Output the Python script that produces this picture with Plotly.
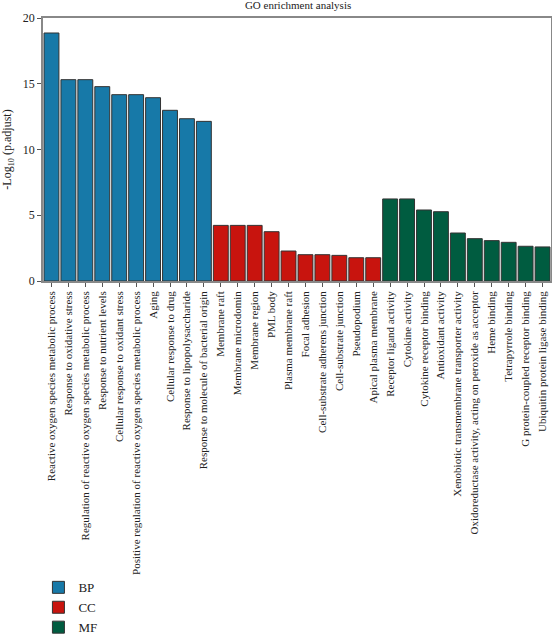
import plotly.graph_objects as go

bp_terms = ["Reactive oxygen species metabolic process", "Response to oxidative stress",
            "Regulation of reactive oxygen species metabolic process", "Response to nutrient levels",
            "Cellular response to oxidant stress", "Positive regulation of reactive oxygen species metabolic process",
            "Aging", "Cellular response to drug", "Response to lipopolysaccharide",
            "Response to molecule of bacterial origin"]
bp_vals = [18.86, 15.31, 15.31, 14.78, 14.17, 14.17, 13.94, 12.98, 12.34, 12.14]

cc_terms = ["Membrane raft", "Membrane microdomin", "Membrane region", "PML body", "Plasma membrane raft",
            "Focal adhesion", "Cell-substrate adherens junction", "Cell-substrate junction",
            "Pseudopodium", "Apical plasma membrane"]
cc_vals = [4.23, 4.23, 4.23, 3.75, 2.28, 2.0, 2.0, 1.95, 1.77, 1.77]

mf_terms = ["Receptor ligand activity", "Cytokine activity", "Cytokine receptor binding", "Antioxidant activity",
            "Xenobiotic transmembrane transporter activity",
            "Oxidoreductase activity, acting on peroxide as acceptor", "Heme binding", "Tetrapyrrole binding",
            "G protein-coupled receptor binding", "Ubiquitin protein ligase binding"]
mf_vals = [6.24, 6.24, 5.40, 5.27, 3.65, 3.22, 3.07, 2.94, 2.64, 2.59]

groups = [("BP", bp_terms, bp_vals, "#1779A8"),
          ("CC", cc_terms, cc_vals, "#C8140E"),
          ("MF", mf_terms, mf_vals, "#005C40")]

fig = go.Figure()
for name, terms, vals, color in groups:
    fig.add_trace(go.Bar(x=terms, y=vals, name=name,
                         marker=dict(color=color, line=dict(color="#333333", width=1))))

font_family = "Liberation Serif"
fig.update_layout(
    width=552, height=635,
    margin=dict(l=43, r=1, t=18, b=354, autoexpand=False),
    plot_bgcolor="white", paper_bgcolor="white",
    barmode="overlay", bargap=0.12,
    font=dict(family=font_family, color="#222222", size=11),
    title=dict(text="GO enrichment analysis", x=0.54, xanchor="center", y=0.998, yanchor="top",
               font=dict(size=11, family=font_family, color="#222222")),
    showlegend=True,
    legend=dict(x=-0.009, y=-1.108, xanchor="left", yanchor="top", font=dict(size=13),
                bgcolor="rgba(0,0,0,0)"),
)
fig.update_xaxes(categoryorder="array", categoryarray=bp_terms + cc_terms + mf_terms,
                 tickangle=-90, tickfont=dict(size=11), showline=True, linecolor="#888888",
                 linewidth=1.5, mirror=True, ticks="outside", ticklen=4, tickcolor="#555555",
                 showgrid=False, automargin=False)
fig.update_yaxes(range=[0, 20], tickvals=[0, 5, 10, 15, 20], showline=True, linecolor="#888888",
                 linewidth=1.5, mirror=True, ticks="outside", ticklen=4, tickcolor="#555555",
                 showgrid=False, zeroline=False, tickfont=dict(size=12), automargin=False,
                 title=dict(text="-Log<sub>10</sub> (p.adjust)", font=dict(size=12), standoff=10))

fig.write_html("out.html", config={"displayModeBar": False},
               post_script="document.body.style.margin='0';document.body.style.overflow='hidden';")
